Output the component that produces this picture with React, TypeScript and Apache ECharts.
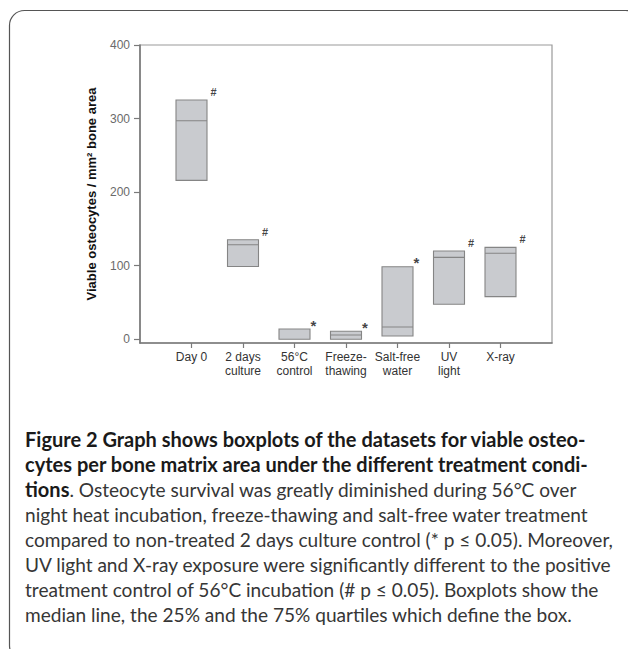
import React, { useEffect, useRef } from "react";
import * as echarts from "echarts";

// ---- data ----
const categories = ["", "Day 0", "2 days\nculture", "56°C\ncontrol", "Freeze-\nthawing", "Salt-free\nwater", "UV\nlight", "X-ray", ""];
const positions = [1, 2, 3, 4, 5, 6, 7];
const q1Values = [216, 99, 0, 0, 4.5, 47.6, 58];
const medianValues = [297, 128.6, 0, 5.8, 16.7, 111.4, 117];
const q3Values = [325.2, 135.4, 14, 10.9, 98.7, 120, 125];
const significance = ["#", "#", "*", "*", "*", "#", "#"];
const yTicks = [0, 100, 200, 300, 400];

const captionBold1 = "Figure 2 Graph shows boxplots of the datasets for viable osteo-";
const captionBold2 = "cytes per bone matrix area under the different treatment condi-";
const captionBold3 = "tions";
const captionLines = [
  ". Osteocyte survival was greatly diminished during 56°C over",
  "night heat incubation, freeze-thawing and salt-free water treatment",
  "compared to non-treated 2 days culture control (* p ≤ 0.05). Moreover,",
  "UV light and X-ray exposure were significantly different to the positive",
  "treatment control of 56°C incubation (# p ≤ 0.05). Boxplots show the",
  "median line, the 25% and the 75% quartiles which define the box.",
];

const CAPTION_FONT = "Lato, 'Open Sans', sans-serif";

function fitSize(text: string, weight: string, target: number, fallback: number) {
  try {
    const ctx = document.createElement("canvas").getContext("2d");
    if (!ctx) return fallback;
    ctx.font = `${weight} 100px ${CAPTION_FONT}`;
    const w = ctx.measureText(text).width;
    if (!w) return fallback;
    const s = (100 * target) / w;
    return Math.max(13, Math.min(20, s));
  } catch (e) {
    return fallback;
  }
}

export default function App() {
  const ref = useRef<HTMLDivElement>(null);

  useEffect(() => {
    if (!ref.current) return;
    const chart = echarts.init(ref.current, null, { renderer: "svg" });

    const regSize = fitSize(captionLines[2], "normal", 588, 17);
    const boldSize = fitSize(captionBold2, "bold", 584, 17);

    const lineY = (i: number) => 439 + 25.05 * i;
    const captionGraphics: any[] = [];
    captionGraphics.push({
      type: "text",
      x: 25,
      y: lineY(0),
      style: { text: captionBold1, font: `bold ${boldSize}px ${CAPTION_FONT}`, fill: "#1a1a1a", verticalAlign: "middle" },
    });
    captionGraphics.push({
      type: "text",
      x: 25,
      y: lineY(1),
      style: { text: captionBold2, font: `bold ${boldSize}px ${CAPTION_FONT}`, fill: "#1a1a1a", verticalAlign: "middle" },
    });
    captionGraphics.push({
      type: "text",
      x: 25,
      y: lineY(2),
      style: {
        text: `{b|${captionBold3}}{n|${captionLines[0]}}`,
        verticalAlign: "middle",
        rich: {
          b: { fontFamily: CAPTION_FONT, fontWeight: "bold", fontSize: boldSize, fill: "#1a1a1a", lineHeight: 22 },
          n: { fontFamily: CAPTION_FONT, fontWeight: "normal", fontSize: regSize, fill: "#363636", lineHeight: 22 },
        },
      },
    });
    for (let i = 1; i < captionLines.length; i++) {
      captionGraphics.push({
        type: "text",
        x: 25,
        y: lineY(i + 2),
        style: { text: captionLines[i], font: `${regSize}px ${CAPTION_FONT}`, fill: "#363636", verticalAlign: "middle" },
      });
    }

    const boxData = positions.map((x, i) => [x, q1Values[i], q1Values[i], medianValues[i], q3Values[i], q3Values[i]]);
    const markData = positions.map((x, i) => {
      const isStar = significance[i] === "*";
      return {
        value: [x, q3Values[i]],
        label: {
          formatter: significance[i],
          fontSize: isStar ? 15 : 11,
          offset: isStar ? [19, -4] : [22, -8],
        },
      };
    });

    const option: any = {
      animation: false,
      textStyle: { fontFamily: "'Liberation Sans', Arial, sans-serif" },
      grid: {
        left: 140,
        right: 76,
        top: 45,
        bottom: 306,
        show: true,
        borderColor: "#9a9a9a",
        borderWidth: 1.2,
        backgroundColor: "transparent",
      },
      xAxis: {
        type: "category",
        data: categories,
        boundaryGap: false,
        axisLine: { onZero: false, lineStyle: { color: "#7a7a7a", width: 1.6 } },
        axisTick: {
          interval: (idx: number) => idx > 0 && idx < categories.length - 1,
          length: 5,
          lineStyle: { color: "#7a7a7a", width: 1.2 },
        },
        axisLabel: { interval: 0, color: "#333333", fontSize: 12, lineHeight: 14, margin: 7 },
        splitLine: { show: false },
      },
      yAxis: {
        type: "value",
        min: -5,
        max: 400,
        name: "Viable osteocytes / mm² bone area",
        nameLocation: "middle",
        nameGap: 42,
        nameTextStyle: { fontWeight: "bold", fontSize: 13, color: "#111111" },
        axisLine: { show: true, lineStyle: { color: "#7a7a7a", width: 1.6 } },
        axisTick: { show: true, length: 6, customValues: yTicks, lineStyle: { color: "#7a7a7a", width: 1.2 } },
        axisLabel: { customValues: yTicks, color: "#6a6a6a", fontSize: 12, margin: 10 },
        splitLine: { show: false },
      },
      series: [
        {
          type: "boxplot",
          data: boxData,
          encode: { x: 0, y: [1, 2, 3, 4, 5] },
          boxWidth: [31, 31],
          itemStyle: { color: "#c9cbcf", borderColor: "#858585", borderWidth: 1.1 },
          emphasis: { disabled: true },
          silent: true,
        },
        {
          type: "scatter",
          data: markData,
          symbolSize: 1,
          itemStyle: { color: "rgba(0,0,0,0)" },
          label: { show: true, position: "inside", color: "#111111", fontWeight: "bold" },
          silent: true,
          z: 5,
        },
      ],
      graphic: [
        {
          type: "rect",
          shape: { x: 9.5, y: 10.5, width: 631, height: 650, r: 15 },
          style: { fill: "none", stroke: "#555555", lineWidth: 1.2 },
          silent: true,
        },
        ...captionGraphics,
      ],
    };

    chart.setOption(option);
    return () => chart.dispose();
  }, []);

  return (
    <div
      ref={ref}
      style={{ position: "fixed", left: 0, top: 0, width: 628, height: 649, background: "#ffffff" }}
    />
  );
}
